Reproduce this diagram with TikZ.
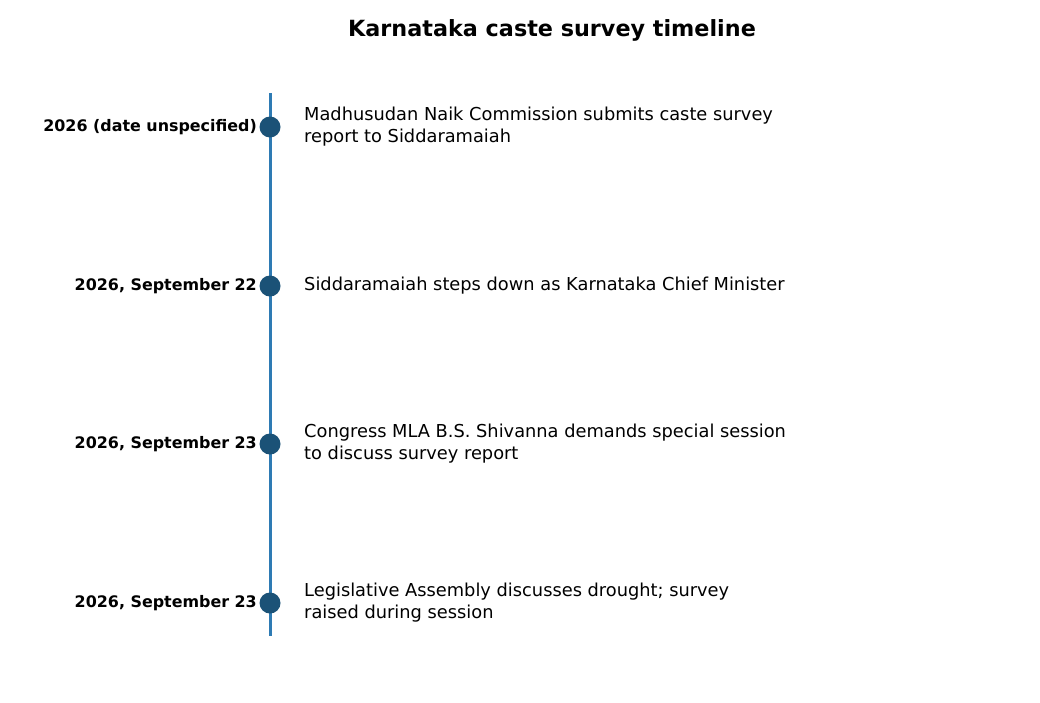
\documentclass[tikz,border=0pt]{standalone}
\usepackage{fontspec}
\setmainfont{DejaVu Sans}
\definecolor{linec}{HTML}{2E7BB4}
\definecolor{dotc}{HTML}{1B5277}
\begin{document}
\begin{tikzpicture}[x=1pt,y=-1pt,
  dot/.style={circle,fill=dotc,draw=none,minimum size=21pt,inner sep=0pt},
  datelab/.style={anchor=east,inner sep=0pt,font=\fontsize{15.9}{18}\selectfont\bfseries},
  evlab/.style={anchor=west,inner sep=0pt,align=left,font=\fontsize{17.8}{22}\selectfont},
  spine/.style={draw=linec,line width=3pt}]
\useasboundingbox (0,0) rectangle (1040,702);
\node[font=\fontsize{22.3}{26}\selectfont\bfseries] (title) at (552,30.5) {Karnataka caste survey timeline};
\coordinate (top) at (270,93);
\coordinate (bot) at (270,636);
\draw[spine] (top) -- (bot);
\node[dot] (d1) at (270,127) {};
\node[dot] (d2) at (270,286) {};
\node[dot] (d3) at (270,444) {};
\node[dot] (d4) at (270,603) {};
\node[datelab] (l1) at (257,127) {2026 (date unspecified)};
\node[datelab] (l2) at (257,286) {2026, September 22};
\node[datelab] (l3) at (257,444) {2026, September 23};
\node[datelab] (l4) at (257,603) {2026, September 23};
\node[evlab] (e1) at (304,127) {Madhusudan Naik Commission submits caste survey\\report to Siddaramaiah};
\node[evlab] (e2) at (304,286) {Siddaramaiah steps down as Karnataka Chief Minister};
\node[evlab] (e3) at (304,444) {Congress MLA B.S. Shivanna demands special session\\to discuss survey report};
\node[evlab] (e4) at (304,603) {Legislative Assembly discusses drought; survey\\raised during session};
\end{tikzpicture}
\end{document}
